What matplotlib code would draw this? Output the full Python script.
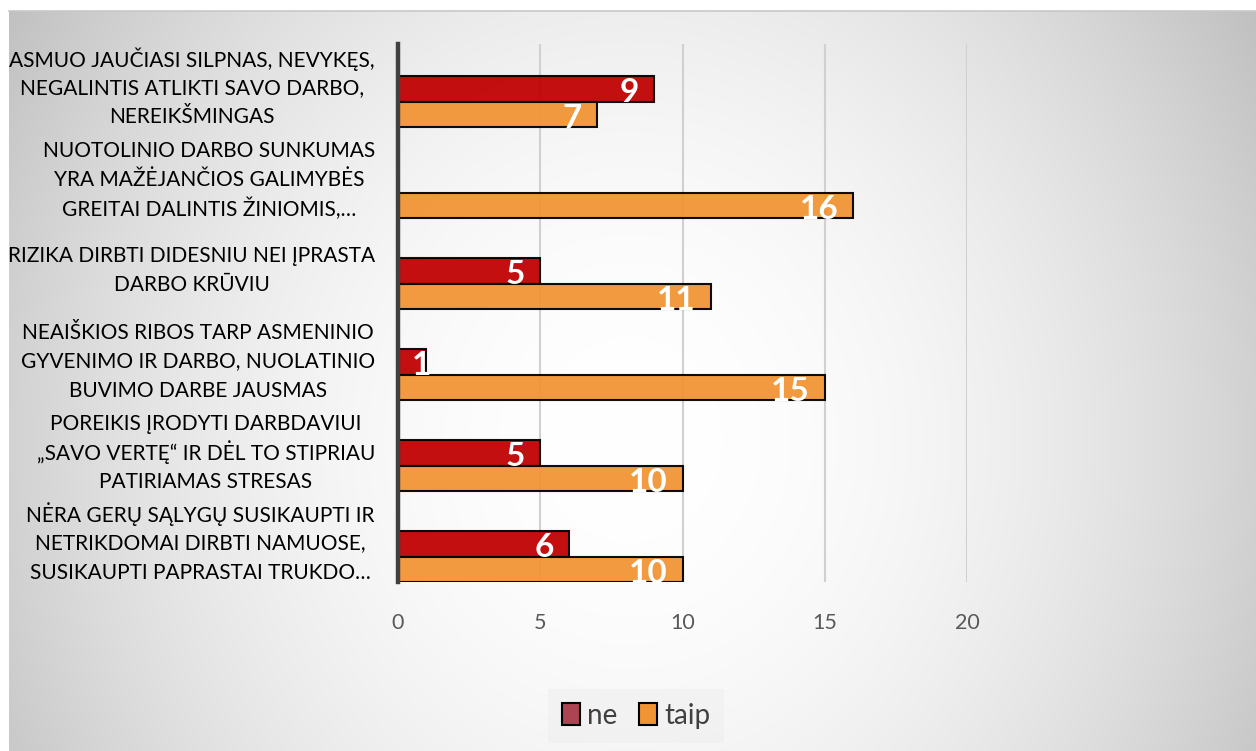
import numpy as np
import matplotlib
matplotlib.use("Agg")
import matplotlib.pyplot as plt
from matplotlib.patches import Patch
from matplotlib.transforms import blended_transform_factory

plt.rcParams['font.family'] = ['Lato', 'DejaVu Sans']

categories = [
    "ASMUO JAUČIASI SILPNAS, NEVYKĘS,\nNEGALINTIS ATLIKTI SAVO DARBO,\nNEREIKŠMINGAS",
    "NUOTOLINIO DARBO SUNKUMAS\nYRA MAŽĖJANČIOS GALIMYBĖS\nGREITAI DALINTIS ŽINIOMIS,…",
    "RIZIKA DIRBTI DIDESNIU NEI ĮPRASTA\nDARBO KRŪVIU",
    "NEAIŠKIOS RIBOS TARP ASMENINIO\nGYVENIMO IR DARBO, NUOLATINIO\nBUVIMO DARBE JAUSMAS",
    "POREIKIS ĮRODYTI DARBDAVIUI\n„SAVO VERTĘ“ IR DĖL TO STIPRIAU\nPATIRIAMAS STRESAS",
    "NĖRA GERŲ SĄLYGŲ SUSIKAUPTI IR\nNETRIKDOMAI DIRBTI NAMUOSE,\nSUSIKAUPTI PAPRASTAI TRUKDO…",
]
ne = [9, np.nan, 5, 1, 5, 6]
taip = [7, 16, 11, 15, 10, 10]
series_names = ["ne", "taip"]
xticks = [0, 5, 10, 15, 20]

W, H = 1256, 751
fig = plt.figure(figsize=(W / 100, H / 100), dpi=100)
fig.patch.set_facecolor("white")

# chart area: radial grey gradient, lightest a little below the middle
bx0, by0 = 9, 11
bg = fig.add_axes([bx0 / W, 0, 1 - bx0 / W, (H - by0) / H])
px, py = np.meshgrid(np.linspace(bx0, W, 420), np.linspace(by0, H, 260))
d = np.hypot(px - 630, (py - 440) * 0.9)
g = 1 - 0.25 * (d / 740) ** 2
bg.imshow(np.dstack([g, g, g]), aspect="auto", extent=[0, 1, 0, 1],
          origin="upper", interpolation="bilinear")
bg.set_xlim(0, 1)
bg.set_ylim(0, 1)
bg.axis("off")
fig.add_artist(plt.Line2D([bx0 / W, 1], [1 - by0 / H, 1 - by0 / H],
                          color="#c8c8c8", lw=1.2))

ax = fig.add_axes([398 / W, 1 - 582 / H, (967 - 398) / W, (582 - 44) / H])
ax.patch.set_alpha(0)

y = np.arange(len(categories))
h = 0.28
ne_y = y + 0.003
taip_y = y + 0.283
ax.barh(ne_y, ne, height=h, color="#c00000", edgecolor="black",
        linewidth=1.5, alpha=0.94, zorder=3)
ax.barh(taip_y, taip, height=h, color="#f19433", edgecolor="black",
        linewidth=1.5, alpha=0.94, zorder=3)

# value labels at the inside end of each bar
for vals, ys in ((ne, ne_y), (taip, taip_y)):
    for v, yy in zip(vals, ys):
        if np.isnan(v):
            continue
        dx = 5 if v < 2 else -15
        ax.annotate(f"{v:g}", (v, yy), xytext=(dx, -4),
                    textcoords="offset pixels", ha="right", va="center",
                    color="white", fontsize=24, fontweight="bold", zorder=6,
                    annotation_clip=False)

ax.set_xlim(0, 20)
ax.set_ylim(5.423, -0.489)
ax.set_xticks(xticks)
ax.set_xticklabels([str(t) for t in xticks])
ax.set_yticks([])
ax.tick_params(axis="x", length=0, pad=22, labelsize=15.5, labelcolor="#595959")

# category labels: centred lines, fixed line pitch, block right-aligned
trans = blended_transform_factory(ax.transAxes, ax.transData)
renderer = fig.canvas.get_renderer()
pitch = 29
for yi, label in zip(y, categories):
    lines = label.split("\n")
    n = len(lines)
    texts = []
    for j, line in enumerate(lines):
        t = ax.annotate(line, (0, yi), xycoords=trans,
                        xytext=(0, -(j - (n - 1) / 2) * pitch),
                        textcoords="offset pixels", ha="center", va="center",
                        fontsize=15, color="black", annotation_clip=False)
        texts.append(t)
    maxw = max(t.get_window_extent(renderer).width for t in texts)
    for j, t in enumerate(texts):
        t.xyann = (-23 - maxw / 2, -(j - (n - 1) / 2) * pitch)

ax.xaxis.grid(True, color="#d0d0d0", linewidth=1.5, zorder=1)
ax.set_axisbelow(True)
for s in ("top", "right", "bottom"):
    ax.spines[s].set_visible(False)
ax.spines["left"].set_color("#404040")
ax.spines["left"].set_linewidth(3.2)
ax.spines["left"].set_zorder(5)

handles = [Patch(facecolor="#ad4452", edgecolor="black", linewidth=1.5),
           Patch(facecolor="#f19433", edgecolor="black", linewidth=1.5)]
leg = fig.legend(handles, series_names, loc="center",
                 bbox_to_anchor=(636 / W, 1 - 716 / H), ncol=2, fontsize=20,
                 frameon=True, fancybox=False, handlelength=0.65,
                 handleheight=0.85, handletextpad=0.25, columnspacing=0.8,
                 borderpad=0.5)
leg.get_frame().set_facecolor("#ececec")
leg.get_frame().set_edgecolor("none")
leg.get_frame().set_alpha(0.45)
for t in leg.get_texts():
    t.set_color("#404040")

fig.savefig("out.png", dpi=100)
